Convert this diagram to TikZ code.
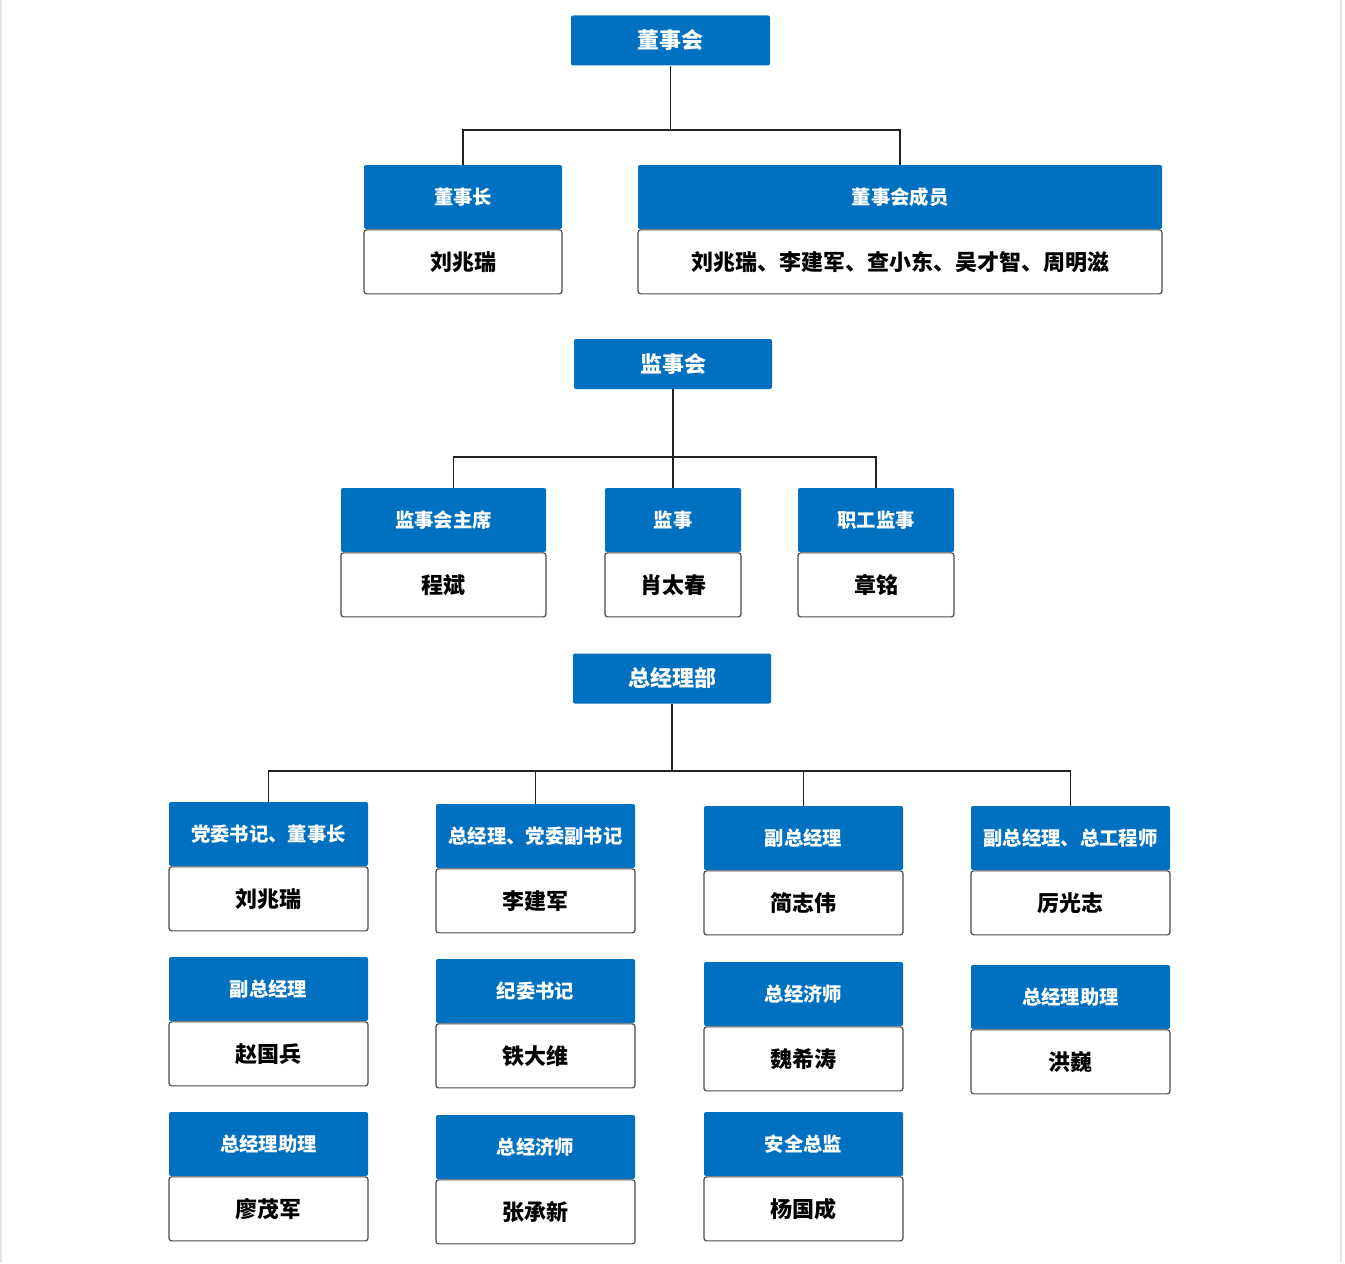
\documentclass[tikz,border=0pt]{standalone}
\usepackage{fontspec}
\usetikzlibrary{positioning}
\newfontfamily\cjk{Noto Sans CJK SC}
\definecolor{boardblue}{HTML}{0070C0}
\definecolor{edge}{HTML}{4A4A4A}
\definecolor{link}{HTML}{222222}
\definecolor{pageline}{HTML}{E4E4E4}
\tikzset{
  font=\cjk\bfseries,
  unit/.style={rectangle, inner sep=0pt, minimum width=#1*0.75pt},
  body/.style={unit=#1, fill=boardblue, text=white, rounded corners=1.5pt,
    minimum height=50*0.75pt, font=\cjk\bfseries\fontsize{16.5}{18}\selectfont},
  role/.style={unit=#1, fill=boardblue, text=white, rounded corners=1.5pt,
    minimum height=64*0.75pt, font=\cjk\bfseries\fontsize{14.5}{16}\selectfont},
  person/.style={unit=#1, fill=white, draw=edge, line width=0.9pt, rounded corners=2pt,
    minimum height=64*0.75pt, anchor=north, font=\cjk\bfseries\fontsize{16.5}{18}\selectfont},
  wire/.style={draw=link, line width=1.3pt},
}
\begin{document}
\begin{tikzpicture}[x=0.75pt, y=-0.75pt]
\useasboundingbox (0,0) rectangle (1345,1263);
\draw[pageline, line width=1.5pt] (1,0) -- (1,1263);
\draw[pageline, line width=1.5pt] (1341,0) -- (1341,1263);
% board of directors
\node[body=199] (board) at (670.5,40.5) {董事会};
\node[role=198] (chair) at (463,197) {董事长};
\node[person=198] (chairP) at (chair.south) {刘兆瑞};
\node[role=524] (members) at (900,197) {董事会成员};
\node[person=524] (membersP) at (members.south) {刘兆瑞、李建军、查小东、吴才智、周明滋};
\draw[wire] (board.south) -- ++(0,64) coordinate (bj) -| (chair.north);
\draw[wire] (bj) -| (members.north);
% supervisory board
\node[body=198] (sboard) at (673,364) {监事会};
\node[role=205] (schair) at (443.5,520) {监事会主席};
\node[person=205] (schairP) at (schair.south) {程斌};
\node[role=136] (sup) at (673,520) {监事};
\node[person=136] (supP) at (sup.south) {肖太春};
\node[role=156] (staff) at (876,520) {职工监事};
\node[person=156] (staffP) at (staff.south) {章铭};
\draw[wire] (sboard.south) -- ++(0,68) coordinate (sj) -| ([xshift=7.5pt]schair.north);
\draw[wire] (sj) -| (staff.north);
\draw[wire] (sj) -- (sup.north);
% general manager office
\node[body=198] (gm) at (672,678.5) {总经理部};
\node[role=199] (a1) at (268.5,834) {党委书记、董事长};
\node[person=199] (a1P) at (a1.south) {刘兆瑞};
\node[role=199] (a2) at (268.5,989) {副总经理};
\node[person=199] (a2P) at (a2.south) {赵国兵};
\node[role=199] (a3) at (268.5,1144) {总经理助理};
\node[person=199] (a3P) at (a3.south) {廖茂军};
\node[role=199] (b1) at (535.5,836) {总经理、党委副书记};
\node[person=199] (b1P) at (b1.south) {李建军};
\node[role=199] (b2) at (535.5,991) {纪委书记};
\node[person=199] (b2P) at (b2.south) {铁大维};
\node[role=199] (b3) at (535.5,1147) {总经济师};
\node[person=199] (b3P) at (b3.south) {张承新};
\node[role=199] (c1) at (803.5,838) {副总经理};
\node[person=199] (c1P) at (c1.south) {简志伟};
\node[role=199] (c2) at (803.5,994) {总经济师};
\node[person=199] (c2P) at (c2.south) {魏希涛};
\node[role=199] (c3) at (803.5,1144) {安全总监};
\node[person=199] (c3P) at (c3.south) {杨国成};
\node[role=199] (d1) at (1070.5,838) {副总经理、总工程师};
\node[person=199] (d1P) at (d1.south) {厉光志};
\node[role=199] (d2) at (1070.5,997) {总经理助理};
\node[person=199] (d2P) at (d2.south) {洪巍};
\draw[wire] (gm.south) -- ++(0,67) coordinate (gj) -| (a1.north);
\draw[wire] (gj) -| (b1.north);
\draw[wire] (gj) -| (c1.north);
\draw[wire] (gj) -| (d1.north);
\end{tikzpicture}
\end{document}
